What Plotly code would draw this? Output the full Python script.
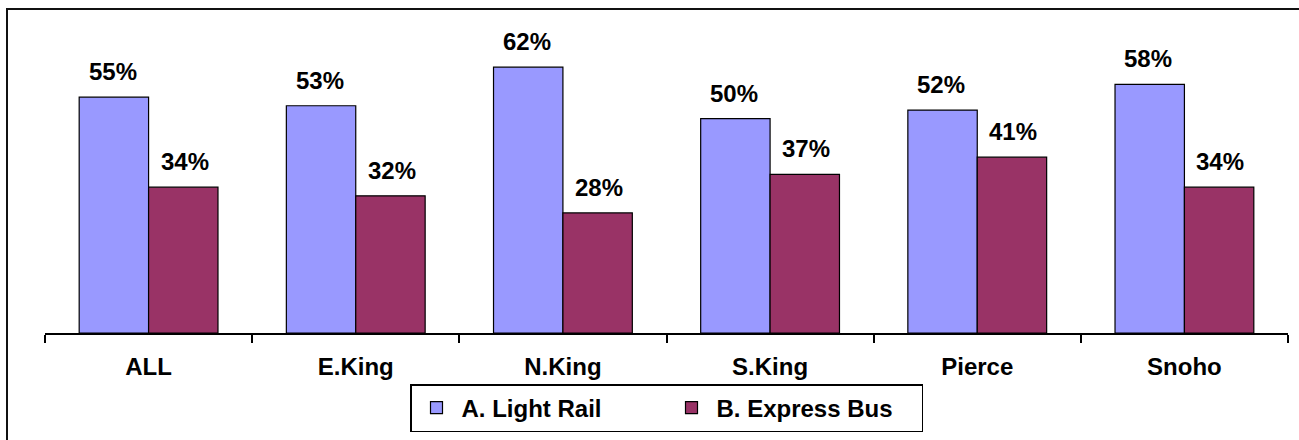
import plotly.graph_objects as go

categories = ["ALL", "E.King", "N.King", "S.King", "Pierce", "Snoho"]
light_rail = [55, 53, 62, 50, 52, 58]
express_bus = [34, 32, 28, 37, 41, 34]
series_names = ["A. Light Rail", "B. Express Bus"]

W, H = 1299, 440
L, R, T, B = 45, 11, 20, 107
plot_w = W - L - R
plot_h = H - T - B
YMAX = 73

FONT = "Liberation Sans, Arial, sans-serif"
FS = 24

fig = go.Figure()
fig.add_trace(go.Bar(
    x=categories, y=light_rail, name=series_names[0],
    marker=dict(color="#9999FF", line=dict(color="#000000", width=1.2)),
))
fig.add_trace(go.Bar(
    x=categories, y=express_bus, name=series_names[1],
    marker=dict(color="#993366", line=dict(color="#000000", width=1.2)),
))

# value labels
for i, c in enumerate(categories):
    for vals, off in ((light_rail, -1), (express_bus, 1)):
        fig.add_annotation(
            x=c, y=vals[i], xref="x", yref="y",
            text=f"{vals[i]}%", showarrow=False,
            xshift=off * 36, yshift=10, yanchor="bottom",
            font=dict(family=FONT, size=FS, color="#000000", weight="bold"),
        )

def px_to_paper_x(px):
    return (px - L) / plot_w

def px_to_paper_y(py):
    return (H - B - py) / plot_h

fig.add_shape(
    type="rect", xref="paper", yref="paper",
    x0=px_to_paper_x(7), x1=px_to_paper_x(1320),
    y0=px_to_paper_y(460), y1=px_to_paper_y(9),
    line=dict(color="#111111", width=2), fillcolor="rgba(0,0,0,0)", layer="below",
)

fig.update_layout(
    width=W, height=H,
    margin=dict(l=L, r=R, t=T, b=B, autoexpand=False),
    paper_bgcolor="white", plot_bgcolor="white",
    barmode="group", bargap=0.33, bargroupgap=0,
    font=dict(family=FONT, size=FS, color="#000000", weight="bold"),
    showlegend=True,
    legend=dict(
        orientation="h", x=0.5, xanchor="center",
        y=px_to_paper_y(408), yanchor="middle",
        bordercolor="#000000", borderwidth=1.5,
        font=dict(family=FONT, size=FS, color="#000000", weight="bold"),
        itemwidth=40, entrywidthmode="pixels", entrywidth=200,
        tracegroupgap=0,
    ),
    xaxis=dict(
        showline=True, linecolor="#000000", linewidth=1.5,
        ticks="outside", tickson="boundaries", ticklen=8, tickcolor="#000000", tickwidth=1.5,
        tickfont=dict(family=FONT, size=FS, color="#000000", weight="bold"),
        ticklabelstandoff=11,
        showgrid=False, zeroline=False,
    ),
    yaxis=dict(
        range=[0, YMAX], visible=False, showgrid=False, zeroline=False,
    ),
)

fig.write_html("out.html")
